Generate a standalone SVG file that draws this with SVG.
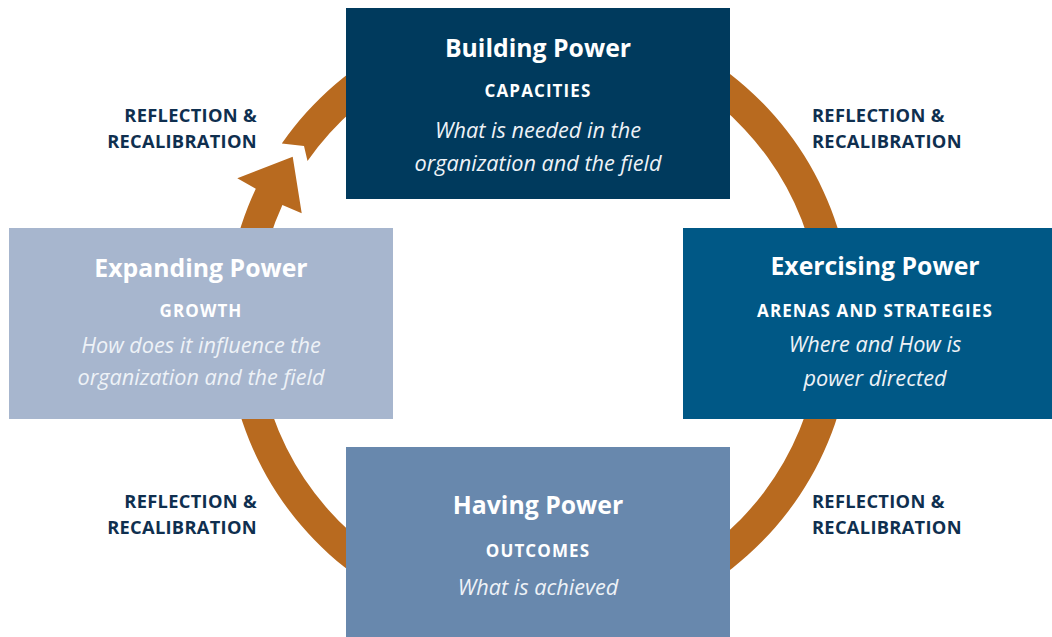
<svg xmlns="http://www.w3.org/2000/svg" width="1052" height="637" viewBox="0 0 1052 637">
<style>
.title{font-family:"Open Sans","Noto Sans",sans-serif;font-weight:700;font-size:24.8px;fill:#ffffff;text-anchor:middle}
.sub{font-family:"Open Sans","Noto Sans",sans-serif;font-weight:700;font-size:17px;letter-spacing:1.1px;fill:#ffffff;text-anchor:middle}
.it{font-family:"Open Sans","Noto Sans",sans-serif;font-style:italic;font-size:21.7px;fill:#eef2f7;text-anchor:middle}
.refl{font-family:"Open Sans","Noto Sans",sans-serif;font-weight:700;font-size:18.3px;letter-spacing:0.3px;fill:#0f2f4f}
.ring{fill:#b86a1f}
</style>
<rect width="1052" height="637" fill="#ffffff"/>
<g id="connectors">
<path class="ring" d="M 281.8 143.6 A 313 313 0 1 1 255.8 188.7 L 237.3 178.3 L 292.7 156.7 L 301.7 213.3 L 282.4 205.1 A 282 282 0 1 0 307.5 161.1 L 304 146 Z"/>
</g>
<g id="labels">
<text class="refl" text-anchor="end" x="257" y="122">REFLECTION &amp;</text>
<text class="refl" text-anchor="end" x="257" y="148">RECALIBRATION</text>
<text class="refl" x="812" y="122">REFLECTION &amp;</text>
<text class="refl" x="812" y="148">RECALIBRATION</text>
<text class="refl" text-anchor="end" x="257" y="508">REFLECTION &amp;</text>
<text class="refl" text-anchor="end" x="257" y="534">RECALIBRATION</text>
<text class="refl" x="812" y="508">REFLECTION &amp;</text>
<text class="refl" x="812" y="534">RECALIBRATION</text>
</g>
<g id="building">
<rect x="346" y="8" width="384" height="191" fill="#003a5d"/>
<text class="title" x="538" y="57">Building Power</text>
<text class="sub" x="538" y="97">CAPACITIES</text>
<text class="it" x="538" y="138">What is needed in the</text>
<text class="it" x="538" y="171">organization and the field</text>
</g>
<g id="expanding">
<rect x="9" y="228" width="384" height="191" fill="#a7b6ce"/>
<text class="title" x="201" y="277">Expanding Power</text>
<text class="sub" x="201" y="317">GROWTH</text>
<text class="it" x="201" y="353">How does it influence the</text>
<text class="it" x="201" y="385">organization and the field</text>
</g>
<g id="exercising">
<rect x="683" y="228" width="384" height="191" fill="#005886"/>
<text class="title" x="875" y="275">Exercising Power</text>
<text class="sub" x="875" y="317">ARENAS AND STRATEGIES</text>
<text class="it" x="875" y="352">Where and How is</text>
<text class="it" x="875" y="386">power directed</text>
</g>
<g id="having">
<rect x="346" y="447" width="384" height="190" fill="#6888ad"/>
<text class="title" x="538" y="514">Having Power</text>
<text class="sub" x="538" y="557">OUTCOMES</text>
<text class="it" x="538" y="595">What is achieved</text>
</g>
</svg>
